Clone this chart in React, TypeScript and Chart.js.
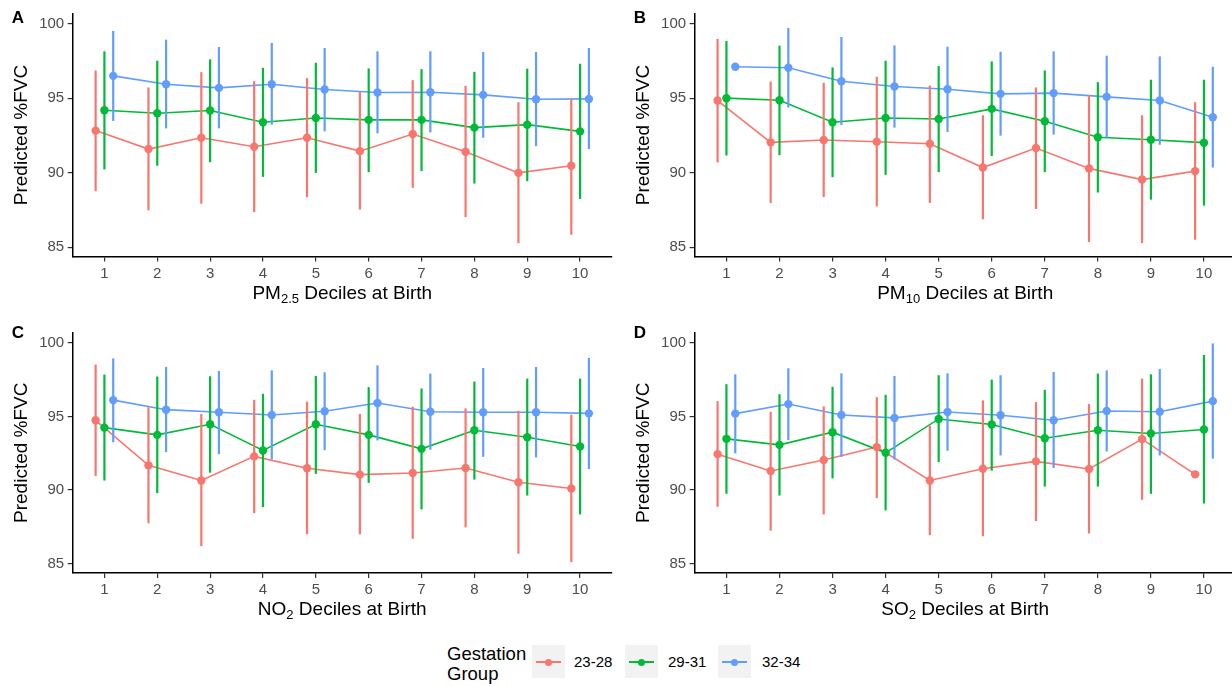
import React, { useEffect, useRef } from 'react';
import { Chart, registerables } from 'chart.js';

Chart.register(...registerables);

const FONT = '"Liberation Sans", Arial, Helvetica, sans-serif';

const deciles = [1, 2, 3, 4, 5, 6, 7, 8, 9, 10];
const groupLabels = ['23-28', '29-31', '32-34'];
const groupColors = ['#F8766D', '#00BA38', '#619CFF'];
const dodge = [-1 / 6, 0, 1 / 6];
const yTicks = [85, 90, 95, 100];
const yMin = 84.37;
const yMax = 100.7;

// PM2.5 panel: [23-28, 29-31, 32-34]
const pm25Est = [
  [92.83, 91.59, 92.35, 91.75, 92.35, 91.45, 92.6, 91.41, 89.99, 90.47],
  [94.2, 94.0, 94.18, 93.39, 93.68, 93.55, 93.55, 93.03, 93.23, 92.78],
  [96.51, 95.95, 95.7, 95.95, 95.59, 95.39, 95.41, 95.23, 94.94, 94.96],
];
const pm25Lo = [
  [88.76, 87.47, 87.92, 87.36, 88.35, 87.52, 88.98, 87.02, 85.27, 85.83],
  [90.22, 90.47, 90.71, 89.72, 89.99, 90.04, 90.11, 89.27, 89.43, 88.24],
  [93.48, 92.98, 92.98, 93.23, 92.78, 92.65, 92.71, 92.35, 91.79, 91.59],
];
const pm25Hi = [
  [96.87, 95.73, 96.76, 96.15, 96.36, 95.44, 96.22, 95.84, 94.74, 94.96],
  [98.16, 97.53, 97.62, 97.05, 97.39, 97.01, 96.96, 96.78, 96.99, 97.32],
  [99.53, 98.94, 98.45, 98.72, 98.38, 98.16, 98.16, 98.11, 98.11, 98.38],
];

// PM10 panel
const pm10Est = [
  [94.85, 92.04, 92.2, 92.08, 91.95, 90.35, 91.66, 90.29, 89.54, 90.11],
  [95.01, 94.87, 93.39, 93.68, 93.61, 94.29, 93.46, 92.38, 92.22, 92.02],
  [97.12, 97.05, 96.15, 95.79, 95.61, 95.3, 95.35, 95.1, 94.85, 93.73],
];
const pm10Lo = [
  [90.69, 87.97, 88.37, 87.74, 87.97, 86.87, 87.56, 85.34, 85.27, 85.5],
  [91.16, 91.18, 89.7, 89.86, 90.04, 91.12, 90.04, 88.67, 88.19, 87.79],
  [null, 94.38, 93.21, 93.03, 92.74, 92.49, 92.56, 92.35, 91.88, 90.35],
];
const pm10Hi = [
  [98.99, 96.13, 96.04, 96.45, 95.86, 93.86, 95.73, 95.23, 93.86, 94.74],
  [98.85, 98.54, 97.08, 97.53, 97.17, 97.48, 96.87, 96.09, 96.25, 96.25],
  [null, 99.73, 99.12, 98.56, 98.47, 98.13, 98.16, 97.86, 97.82, 97.12],
];

// NO2 panel
const no2Est = [
  [94.74, 91.68, 90.65, 92.29, 91.48, 91.05, 91.16, 91.5, 90.53, 90.11],
  [94.24, 93.75, 94.47, 92.69, 94.47, 93.75, 92.8, 94.06, 93.59, 92.96],
  [96.11, 95.46, 95.28, 95.1, 95.35, 95.91, 95.32, 95.28, 95.28, 95.21],
];
const no2Lo = [
  [90.96, 87.74, 86.19, 88.44, 87.0, 87.0, 86.69, 87.47, 85.68, 85.11],
  [90.65, 89.79, 91.18, 88.85, 91.1, 90.49, 88.69, 90.71, 89.63, 88.35],
  [93.25, 92.58, 92.44, 92.08, 92.71, 93.37, 92.74, 92.26, 92.22, 91.43],
];
const no2Hi = [
  [98.52, 95.62, 95.17, 96.13, 96.0, 95.17, 95.66, 95.55, 95.39, 95.12],
  [97.84, 97.71, 97.73, 96.54, 97.75, 96.99, 96.9, 97.37, 97.57, 97.57],
  [98.94, 98.36, 98.09, 98.13, 98.0, 98.47, 97.91, 98.29, 98.36, 98.97],
];

// SO2 panel
const so2Est = [
  [92.44, 91.3, 92.04, 92.92, 90.65, 91.45, 91.95, 91.43, 93.46, 91.07],
  [93.48, 93.07, 93.93, 92.53, 94.83, 94.45, 93.52, 94.06, 93.84, 94.11],
  [95.19, 95.84, 95.1, 94.9, 95.3, 95.08, 94.74, 95.37, 95.32, 96.04],
];
const so2Lo = [
  [88.87, 87.25, 88.35, 89.45, 86.94, 86.87, 87.9, 87.05, 89.34, null],
  [89.75, 89.63, 90.8, 88.62, 91.9, 91.32, 90.24, 90.24, 89.75, 89.09],
  [92.49, 93.39, 92.26, 92.08, 92.67, 92.35, 91.5, 92.62, 92.35, 92.13],
];
const so2Hi = [
  [96.04, 95.32, 95.68, 96.31, 94.38, 96.09, 95.97, 95.84, 97.57, null],
  [97.19, 96.51, 97.01, 96.47, 97.8, 97.5, 96.81, 97.91, 97.86, 99.17],
  [97.86, 98.27, 97.93, 97.75, 97.93, 97.8, 98.02, 98.13, 98.22, 99.96],
];

type Seg = { t: string; sub?: boolean };
type PanelCfg = {
  letter: string;
  title: Seg[];
  est: number[][];
  lo: (number | null)[][];
  hi: (number | null)[][];
  pageX: number;
  pageY: number;
  w: number;
  area: { left: number; right: number; top: number; bottom: number };
  letterX: number;
  letterY: number;
};

const H = 310;

const panels: PanelCfg[] = [
  {
    letter: 'A',
    title: [{ t: 'PM' }, { t: '2.5', sub: true }, { t: ' Deciles at Birth' }],
    est: pm25Est, lo: pm25Lo, hi: pm25Hi,
    pageX: 0, pageY: 0, w: 616,
    area: { left: 72.7, right: 614, top: 13.5, bottom: 256.5 },
    letterX: 11.7, letterY: 23.3,
  },
  {
    letter: 'B',
    title: [{ t: 'PM' }, { t: '10', sub: true }, { t: ' Deciles at Birth' }],
    est: pm10Est, lo: pm10Lo, hi: pm10Hi,
    pageX: 616, pageY: 0, w: 624,
    area: { left: 78.6, right: 619.9, top: 13.5, bottom: 256.5 },
    letterX: 17.7, letterY: 23.3,
  },
  {
    letter: 'C',
    title: [{ t: 'NO' }, { t: '2', sub: true }, { t: ' Deciles at Birth' }],
    est: no2Est, lo: no2Lo, hi: no2Hi,
    pageX: 0, pageY: 320, w: 616,
    area: { left: 72.7, right: 614, top: 9.8, bottom: 253 },
    letterX: 11.8, letterY: 18.3,
  },
  {
    letter: 'D',
    title: [{ t: 'SO' }, { t: '2', sub: true }, { t: ' Deciles at Birth' }],
    est: so2Est, lo: so2Lo, hi: so2Hi,
    pageX: 616, pageY: 320, w: 624,
    area: { left: 78.6, right: 619.9, top: 9.8, bottom: 253 },
    letterX: 17.7, letterY: 18.3,
  },
];

function Panel({ cfg }: { cfg: PanelCfg }) {
  const ref = useRef<HTMLCanvasElement | null>(null);
  useEffect(() => {
    const canvas = ref.current;
    if (!canvas) return;
    const W = cfg.w;
    const datasets: any[] = [];
    groupLabels.forEach((g, gi) => {
      datasets.push({
        label: g + ' line',
        data: deciles.map((d, i) => ({ x: d + dodge[gi], y: cfg.est[gi][i] })),
        borderColor: groupColors[gi],
        borderWidth: 1.6,
        pointRadius: 0,
        fill: false,
        tension: 0,
        order: 12 - gi,
      });
    });
    groupLabels.forEach((g, gi) => {
      datasets.push({
        label: g,
        data: deciles.map((d, i) => ({ x: d + dodge[gi], y: cfg.est[gi][i] })),
        showLine: false,
        pointRadius: 4.2,
        pointBackgroundColor: groupColors[gi],
        pointBorderColor: groupColors[gi],
        pointBorderWidth: 0,
        order: 2 - gi,
      });
    });

    const errorBars = {
      id: 'errorBars',
      afterDatasetDraw(chart: any, args: any) {
        if (args.index !== 2) return;
        const { ctx } = chart;
        const x = chart.scales.x;
        const y = chart.scales.y;
        ctx.save();
        groupLabels.forEach((_g, gi) => {
          ctx.strokeStyle = groupColors[gi];
          ctx.lineWidth = 2.2;
          deciles.forEach((d, i) => {
            const lo = cfg.lo[gi][i];
            const hi = cfg.hi[gi][i];
            if (lo == null || hi == null) return;
            const px = x.getPixelForValue(d + dodge[gi]);
            ctx.beginPath();
            ctx.moveTo(px, y.getPixelForValue(lo));
            ctx.lineTo(px, y.getPixelForValue(hi));
            ctx.stroke();
          });
        });
        ctx.restore();
      },
    };

    const titles = {
      id: 'titles',
      afterDraw(chart: any) {
        const { ctx, chartArea } = chart;
        ctx.save();
        ctx.fillStyle = '#000';
        // y title
        ctx.save();
        ctx.translate(chartArea.left - 51, (chartArea.top + chartArea.bottom) / 2);
        ctx.rotate(-Math.PI / 2);
        ctx.font = `19px ${FONT}`;
        ctx.textAlign = 'center';
        ctx.textBaseline = 'middle';
        ctx.fillText('Predicted %FVC', 0, 0);
        ctx.restore();
        // x title with subscript
        const mainFont = `19px ${FONT}`;
        const subFont = `13px ${FONT}`;
        let total = 0;
        const widths = cfg.title.map((s) => {
          ctx.font = s.sub ? subFont : mainFont;
          const w = ctx.measureText(s.t).width;
          total += w;
          return w;
        });
        let cx = (chartArea.left + chartArea.right) / 2 - total / 2;
        const base = chartArea.bottom + 42;
        ctx.textAlign = 'left';
        ctx.textBaseline = 'alphabetic';
        cfg.title.forEach((s, i) => {
          ctx.font = s.sub ? subFont : mainFont;
          ctx.fillText(s.t, cx, s.sub ? base + 4 : base);
          cx += widths[i];
        });
        // panel letter
        ctx.font = `bold 17px ${FONT}`;
        ctx.fillText(cfg.letter, cfg.letterX, cfg.letterY);
        ctx.restore();
      },
    };

    const a = cfg.area;
    const chart = new Chart(canvas, {
      type: 'line',
      data: { datasets },
      options: {
        animation: false,
        responsive: false,
        devicePixelRatio: 1,
        layout: { padding: { top: a.top, right: W - a.right, left: 0, bottom: 0 } },
        plugins: { legend: { display: false }, tooltip: { enabled: false } },
        scales: {
          x: {
            type: 'linear',
            min: 0.4,
            max: 10.6,
            afterBuildTicks: (s: any) => {
              s.ticks = deciles.map((v) => ({ value: v }));
            },
            afterFit: (s: any) => {
              s.height = H - a.bottom;
            },
            grid: { display: true, drawOnChartArea: false, drawTicks: true, tickLength: 5, color: '#333333', lineWidth: 1.2 },
            border: { display: true, color: '#000000', width: 1.5 },
            ticks: {
              color: '#4D4D4D',
              font: { size: 15, family: FONT },
              padding: 3,
              maxRotation: 0,
              autoSkip: false,
              callback: (v: any) => String(v),
            },
          },
          y: {
            type: 'linear',
            min: yMin,
            max: yMax,
            afterBuildTicks: (s: any) => {
              s.ticks = yTicks.map((v) => ({ value: v }));
            },
            afterFit: (s: any) => {
              s.width = a.left;
            },
            grid: { display: true, drawOnChartArea: false, drawTicks: true, tickLength: 5, color: '#333333', lineWidth: 1.2 },
            border: { display: true, color: '#000000', width: 1.5 },
            ticks: {
              color: '#4D4D4D',
              font: { size: 15, family: FONT },
              padding: 3.5,
              callback: (v: any) => String(v),
            },
          },
        },
      },
      plugins: [errorBars, titles],
    } as any);
    return () => chart.destroy();
  }, [cfg]);

  return (
    <canvas
      ref={ref}
      width={cfg.w}
      height={H}
      style={{ position: 'absolute', left: cfg.pageX, top: cfg.pageY, width: cfg.w, height: H }}
    />
  );
}

function LegendKey({ color, left }: { color: string; left: number }) {
  return (
    <div style={{ position: 'absolute', left, top: 645, width: 33, height: 33, background: '#F2F2F2' }}>
      <div style={{ position: 'absolute', left: 4, right: 4, top: 16.4, height: 1.8, background: color }} />
      <div
        style={{
          position: 'absolute',
          left: 16.5 - 3.6,
          top: 17.3 - 3.6,
          width: 7.2,
          height: 7.2,
          borderRadius: '50%',
          background: color,
        }}
      />
    </div>
  );
}

export default function App() {
  const keyLefts = [532, 625, 718];
  const labelLefts = [574, 668, 762];
  return (
    <div
      style={{
        position: 'absolute',
        left: 0,
        top: 0,
        width: 1232,
        height: 686,
        background: '#ffffff',
        fontFamily: FONT,
        overflow: 'hidden',
      }}
    >
      {panels.map((p) => (
        <Panel key={p.letter} cfg={p} />
      ))}
      <div
        style={{
          position: 'absolute',
          left: 447,
          top: 643.6,
          fontSize: 18.5,
          lineHeight: '20px',
          color: '#000',
        }}
      >
        Gestation
        <br />
        Group
      </div>
      {groupLabels.map((g, i) => (
        <React.Fragment key={g}>
          <LegendKey color={groupColors[i]} left={keyLefts[i]} />
          <div
            style={{
              position: 'absolute',
              left: labelLefts[i],
              top: 653,
              fontSize: 15,
              lineHeight: '18px',
              color: '#000',
            }}
          >
            {g}
          </div>
        </React.Fragment>
      ))}
    </div>
  );
}
